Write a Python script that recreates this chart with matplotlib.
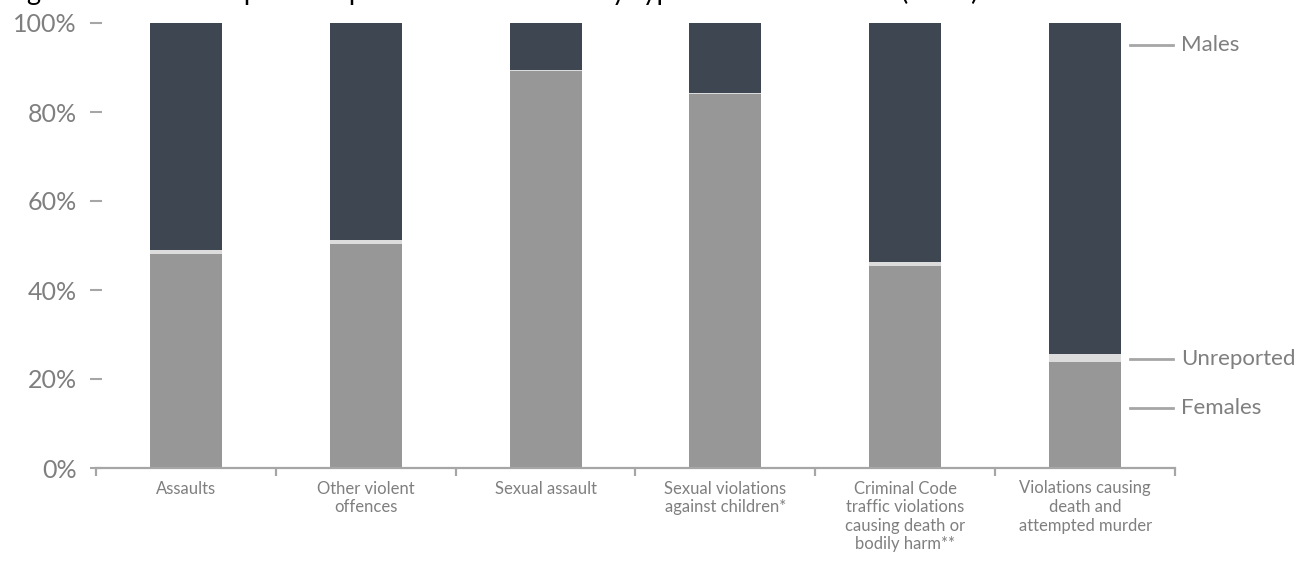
import matplotlib
matplotlib.use("Agg")
import matplotlib.pyplot as plt
import numpy as np

plt.rcParams['font.family'] = ['Lato', 'DejaVu Sans']

# data (% of victims)
categories = [
    "Assaults",
    "Other violent\noffences",
    "Sexual assault",
    "Sexual violations\nagainst children*",
    "Criminal Code\ntraffic violations\ncausing death or\nbodily harm**",
    "Violations causing\ndeath and\nattempted murder",
]
females = [48.1, 50.3, 89.2, 84.0, 45.4, 23.8]
unreported = [0.9, 0.9, 0.2, 0.2, 0.9, 1.8]
males = [51.0, 48.8, 10.6, 15.8, 53.7, 74.4]

series_names = ["Females", "Unreported", "Males"]
yticks = [0, 20, 40, 60, 80, 100]
title = "Figure 3: Victims of police-reported violent crime by type and sex of victim (2015)"

c_fem = "#979797"
c_unr = "#dcdcdc"
c_mal = "#3d4651"
c_txt = "#7f7f7f"
c_axis = "#a6a6a6"

fig = plt.figure(figsize=(12.97, 5.62), dpi=100)
ax = fig.add_axes([96 / 1297, 1 - 468 / 562, 1079 / 1297, 445 / 562])

x = np.arange(len(categories))
w = 0.4
fem = np.array(females)
unr = np.array(unreported)
mal = np.array(males)
ax.bar(x, fem, w, color=c_fem, linewidth=0)
ax.bar(x, unr, w, bottom=fem, color=c_unr, linewidth=0)
ax.bar(x, mal, w, bottom=fem + unr, color=c_mal, linewidth=0)

ax.set_xlim(-0.5, len(categories) - 0.5)
ax.set_ylim(0, 100)

for s in ["top", "right", "left"]:
    ax.spines[s].set_visible(False)
ax.spines["bottom"].set_color(c_axis)
ax.spines["bottom"].set_linewidth(1.6)

ax.set_yticks(yticks)
ax.set_yticklabels([f"{v}%" for v in yticks])
ax.tick_params(axis="y", direction="inout", length=8, width=1.5, color=c_axis,
               labelcolor=c_txt, labelsize=18, pad=10)

ax.set_xticks(np.arange(-0.5, len(categories)), labels=[""] * (len(categories) + 1))
ax.tick_params(axis="x", which="major", direction="out", length=6, width=1.6, color=c_axis)
ax.set_xticks(x, minor=True)
ax.set_xticklabels(categories, minor=True, color=c_txt, fontsize=12, linespacing=1.2)
ax.tick_params(axis="x", which="minor", length=0, pad=9)

# right-hand series labels
label_y = {"Males": 95, "Unreported": 24.5, "Females": 13.5}
for name in series_names:
    yy = label_y[name]
    ax.plot([0.958, 0.998], [yy, yy], transform=ax.get_yaxis_transform(),
            color=c_axis, lw=2, clip_on=False)
    ax.text(1.006, yy, name, transform=ax.get_yaxis_transform(), va="center",
            ha="left", color=c_txt, fontsize=16)

# title, only its lower edge shows at the top of the image
fig.text(0.004, 1.0, title, va="baseline", ha="left", fontsize=19.5, color="black")

fig.savefig("out.png", dpi=100)
